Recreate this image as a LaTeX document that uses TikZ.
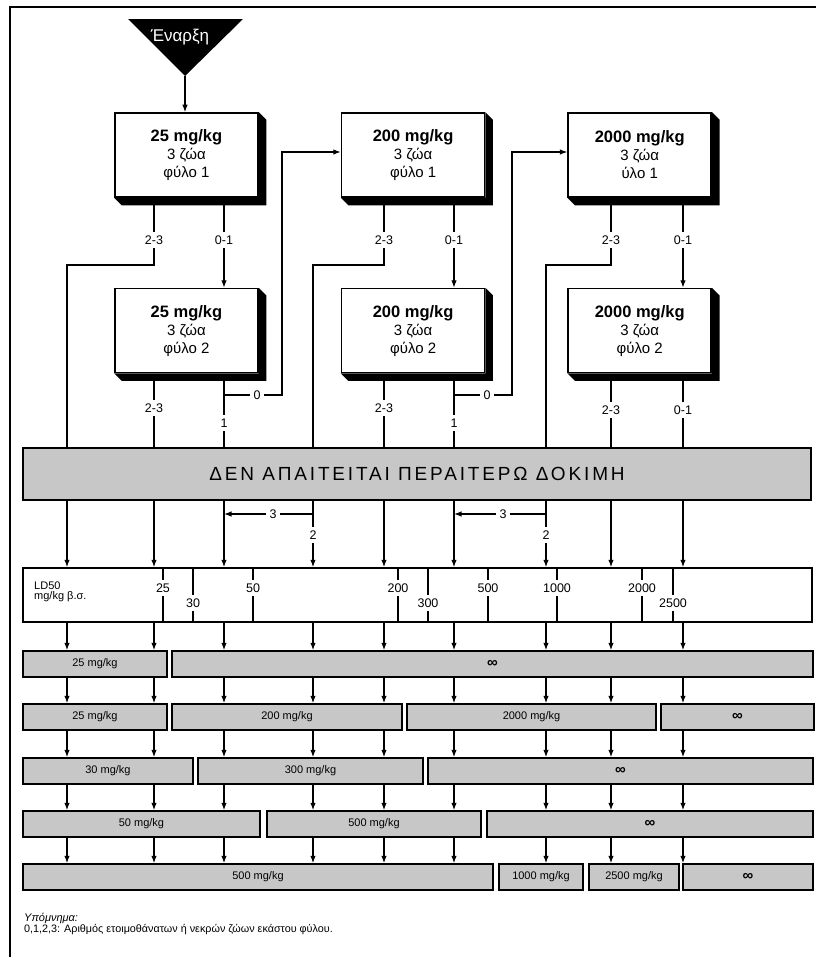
\documentclass[tikz,border=0pt]{standalone}
\usepackage{fontspec}
\setmainfont{Liberation Sans}
\usetikzlibrary{arrows.meta,calc,positioning}

% black side faces of a test box
\newcommand{\slabshade}[1]{%
  \fill (#1.north east) -- ++(7.5,7.5) -- ($(#1.south east)+(7.5,7.5)$)
    -- ($(#1.south west)+(7.5,7.5)$) -- (#1.south west) -- (#1.south east) -- cycle;}
\newcommand{\infin}{{\bfseries\fontsize{15}{15}\selectfont ∞}}

\tikzset{
  >={Latex[length=7.5pt,width=5.5pt]},
  link/.style={line width=1.2pt},
  dose/.style={draw, line width=1.6pt, fill=white, minimum width=143pt,
    minimum height=84pt, align=center, font=\fontsize{15}{18}\selectfont},
  count/.style={font=\fontsize{12.5}{14}\selectfont, inner sep=3.5pt},
  notest/.style={draw, line width=1.6pt, fill=black!22, minimum width=788pt,
    minimum height=52pt, font=\fontsize{19}{21}\selectfont\addfontfeatures{LetterSpace=15}},
  ldbox/.style={draw, line width=1.5pt, minimum width=789pt, minimum height=54pt},
  ldval/.style={font=\fontsize{12.5}{14}\selectfont, inner sep=3.5pt},
  result/.style={draw, line width=1.5pt, fill=black!22, minimum height=26pt,
    inner sep=0pt, font=\fontsize{11}{12}\selectfont},
}

\begin{document}
\begin{tikzpicture}[x=1pt,y=-1pt]
\useasboundingbox (0,0) rectangle (816,961);
\draw[line width=1.3pt] (10,957) -- (10,7) -- (816,7);

% start
\coordinate (tipL) at (128,19);
\coordinate (tipR) at (243,19);
\coordinate (apex) at (185,76);
\fill (tipL) -- (tipR) -- (apex) -- cycle;
\node[text=white, font=\fontsize{17}{17}\selectfont] (start) at (180,37) {Έναρξη};

% columns
\foreach \k/\x in {1/67,2/154,3/224,4/313,5/384,6/454,7/546,8/611,9/683}
  \coordinate (k\k) at (\x,0);

% test boxes
\node[dose] (t11) at (186.5,155) {{\bfseries\fontsize{16.5}{18}\selectfont 25 mg/kg}\\3 ζώα\\φύλο 1};
\node[dose, right=82pt of t11] (t12) {{\bfseries\fontsize{16.5}{18}\selectfont 200 mg/kg}\\3 ζώα\\φύλο 1};
\node[dose, right=82pt of t12] (t13) {{\bfseries\fontsize{16.5}{18}\selectfont 2000 mg/kg}\\3 ζώα\\ύλο 1};
\node[dose, below=90pt of t11] (t21) {{\bfseries\fontsize{16.5}{18}\selectfont 25 mg/kg}\\3 ζώα\\φύλο 2};
\node[dose, below=90pt of t12] (t22) {{\bfseries\fontsize{16.5}{18}\selectfont 200 mg/kg}\\3 ζώα\\φύλο 2};
\node[dose, below=90pt of t13] (t23) {{\bfseries\fontsize{16.5}{18}\selectfont 2000 mg/kg}\\3 ζώα\\φύλο 2};
\foreach \b in {t11,t12,t13,t21,t22,t23}
  \slabshade{\b};
\coordinate (r1) at ($(t11.south)+(0,7.5)$);
\coordinate (r2) at ($(t21.south)+(0,7.5)$);

\draw[link,->] (apex) -- (t11.north -| apex);

% no further test
\node[notest] (bar) at (417,474) {ΔΕΝ ΑΠΑΙΤΕΙΤΑΙ ΠΕΡΑΙΤΕΡΩ ΔΟΚΙΜΗ};

% first sex
\foreach \i/\a/\b/\k in {1/154/224/1, 2/384/454/4, 3/611/683/7} {
  \node[count] (n1\i) at (\a,240) {2-3};
  \node[count] (p1\i) at (\b,240) {0-1};
  \draw[link] (n1\i |- r1) -- (n1\i);
  \draw[link] (p1\i |- r1) -- (p1\i);
  \draw[link,->] (p1\i) -- (t2\i.north -| p1\i);
  \draw[link] (n1\i) |- ($(k\k)+(0,265)$) -- (bar.north -| k\k);
}

% second sex
\foreach \i/\a/\b in {1/154/224, 2/384/454} {
  \node[count] (n2\i) at (\a,408) {2-3};
  \node[count] (p2\i) at (\b,423) {1};
  \draw[link] (n2\i |- r2) -- (n2\i) -- (bar.north -| n2\i);
  \draw[link] (p2\i |- r2) -- (p2\i) -- (bar.north -| p2\i);
}
\node[count] (n23) at (611,410) {2-3};
\node[count] (p23) at (683,410) {0-1};
\draw[link] (n23 |- r2) -- (n23) -- (bar.north -| n23);
\draw[link] (p23 |- r2) -- (p23) -- (bar.north -| p23);

% back to the next dose
\foreach \i/\xj/\xz/\xu/\nx in {1/224/257/282/2, 2/454/487/512/3} {
  \coordinate (j\i) at (\xj,395);
  \coordinate (u\i) at (\xu,152);
  \node[count] (z\i) at (\xz,395) {0};
  \draw[link] (j\i) -- (z\i);
  \draw[link,->] (z\i) -| (u\i) -- (t1\nx.west |- u\i);
}

% LD50 scale
\node[ldbox] (ld) at (417.5,595) {};
\node[anchor=west, align=left, inner sep=0pt, font=\fontsize{11}{10.5}\selectfont]
  (ldname) at (34,592) {LD50\\mg/kg β.σ.};
\foreach \x/\v in {163/25, 253/50, 398/200, 488/500, 557/1000, 642/2000} {
  \node[ldval] (v\v) at (\x,588) {\v};
  \draw[link] (ld.north -| v\v) -- (v\v) -- (ld.south -| v\v);
}
\foreach \x/\v in {193/30, 428/300, 673/2500} {
  \node[ldval] (v\v) at (\x,603) {\v};
  \draw[link] (ld.north -| v\v) -- (v\v) -- (ld.south -| v\v);
}

% from the bar to the scale
\foreach \k in {1,2,3,5,6,8,9}
  \draw[link,->] (k\k |- bar.south) -- (k\k |- ld.north);
\foreach \i/\k/\kb/\xt in {1/4/3/273, 2/7/6/503} {
  \node[count] (two\i) at (k\k |- 0,535) {2};
  \node[count] (three\i) at (\xt,514) {3};
  \draw[link] (k\k |- bar.south) -- (two\i);
  \draw[link,->] (two\i) -- (k\k |- ld.north);
  \draw[link] (k\k |- 0,514) -- (three\i);
  \draw[link,->] (three\i) -- (k\kb |- 0,514);
}

% LD50 ranges
\foreach \nm/\xa/\xb/\yc/\txt in {
    ra1/23/167/664/{25 mg/kg}, ra2/172/813/664/\infin,
    rb1/23/167/717/{25 mg/kg}, rb2/172/402/717/{200 mg/kg},
    rb3/407/656/717/{2000 mg/kg}, rb4/661/814/717/\infin,
    rc1/23/193/771/{30 mg/kg}, rc2/198/423/771/{300 mg/kg}, rc3/428/813/771/\infin,
    rd1/23/260/824/{50 mg/kg}, rd2/267/481/824/{500 mg/kg}, rd3/487/813/824/\infin,
    re1/23/493/877/{500 mg/kg}, re2/499/583/877/{1000 mg/kg},
    re3/589/679/877/{2500 mg/kg}, re4/683/813/877/\infin}
  \node[result, minimum width={(\xb-\xa)*1pt}] (\nm) at ({(\xa+\xb)/2},\yc) {\txt};

\foreach \up/\dn in {ld/ra1, ra1/rb1, rb1/rc1, rc1/rd1, rd1/re1}
  \foreach \k in {1,...,9}
    \draw[link,->] (k\k |- \up.south) -- (k\k |- \dn.north);

% legend
\node[anchor=west, inner sep=0pt, font=\fontsize{11}{12}\selectfont\itshape]
  (key) at (24,918) {Υπόμνημα:};
\node[anchor=west, inner sep=0pt, font=\fontsize{10.8}{12}\selectfont]
  (keytext) at (24,930) {0,1,2,3: Αριθμός ετοιμοθάνατων ή νεκρών ζώων εκάστου φύλου.};
\end{tikzpicture}
\end{document}
